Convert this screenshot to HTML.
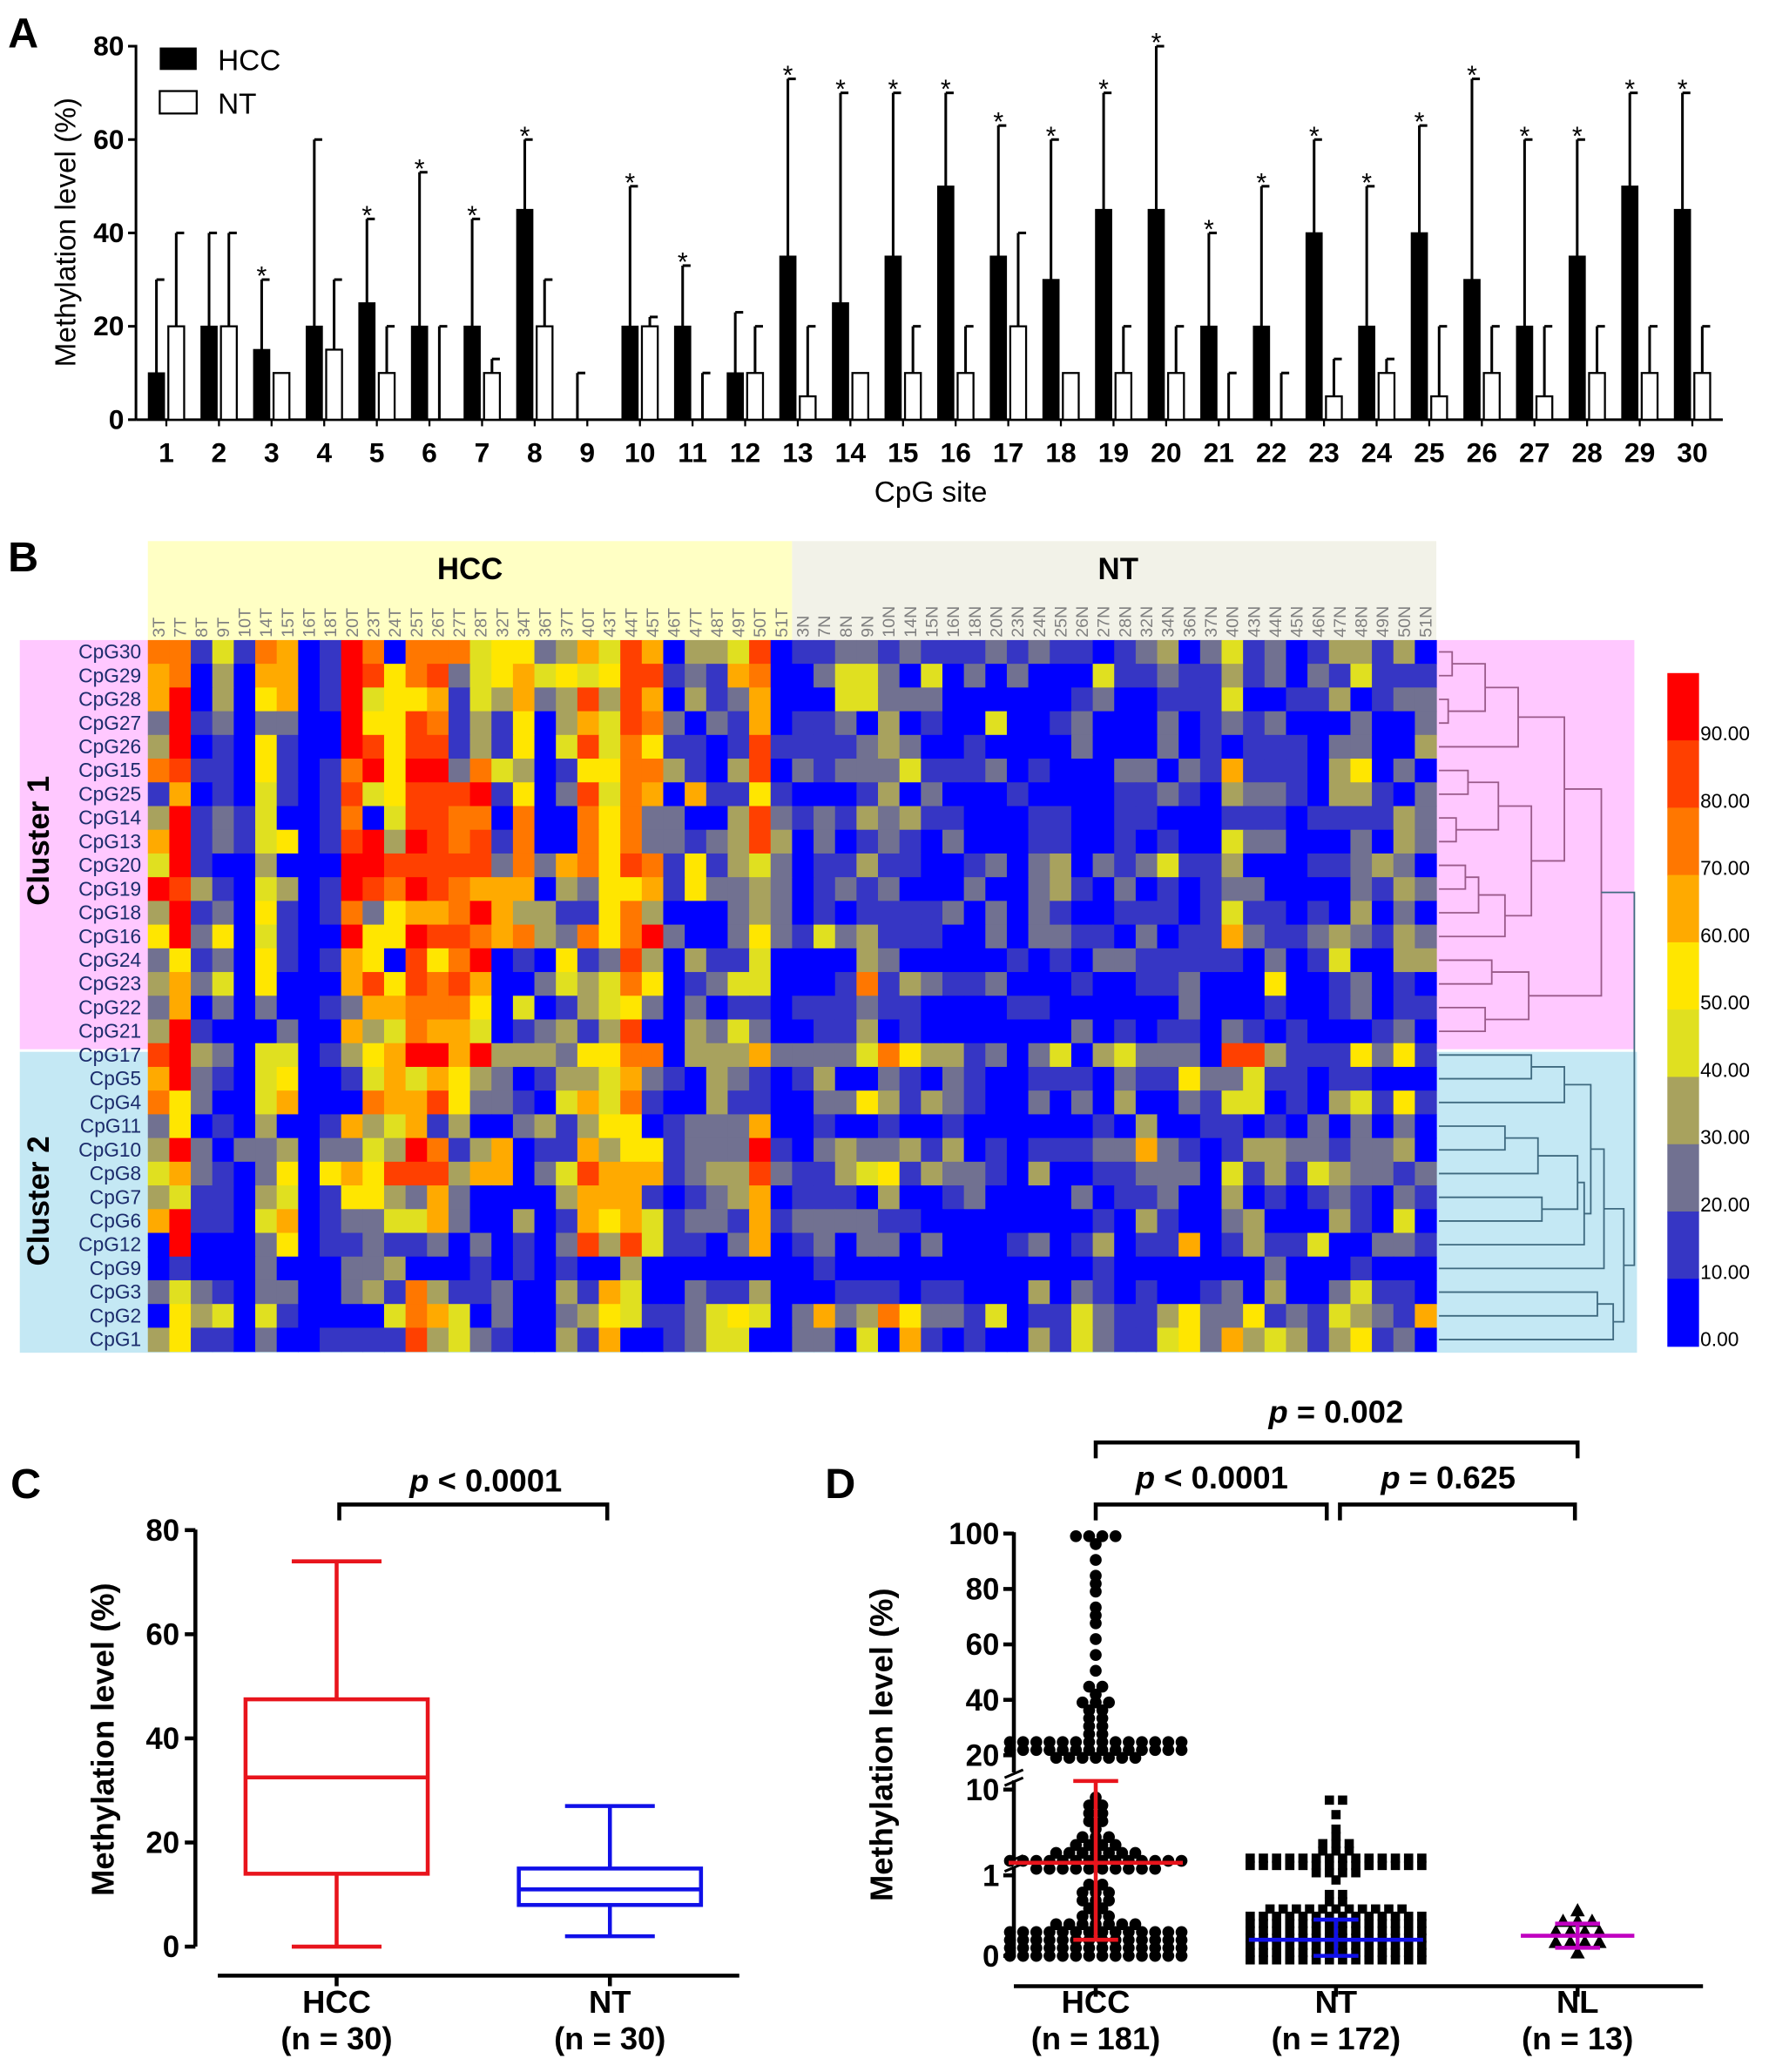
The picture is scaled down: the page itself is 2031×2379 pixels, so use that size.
<!DOCTYPE html>
<html><head><meta charset="utf-8"><style>
html,body{margin:0;padding:0;background:#fff;}
svg{display:block;font-family:"Liberation Sans",Arial,sans-serif;}
</style></head><body>
<svg id="fig" width="2031" height="2379" viewBox="0 0 1340 1570" preserveAspectRatio="none" xmlns="http://www.w3.org/2000/svg">
<rect width="1340" height="1570" fill="#fff"/>
<g id="pA"></g>
<g id="pB"></g>
<g id="pC"></g>
<g id="pD"></g>
</svg>
<script>
// ---------- Panel A data ----------
const sites = [1,2,3,4,5,6,7,8,9,10,11,12,13,14,15,16,17,18,19,20,21,22,23,24,25,26,27,28,29,30];
const hccMean = [10,20,15,20,25,20,20,45,0,20,20,10,35,25,35,50,35,30,45,45,20,20,40,20,40,30,20,35,50,45];
const hccTop  = [30,40,30,60,43,53,43,60,10,50,33,23,73,70,70,70,63,60,70,80,40,50,60,50,63,73,60,60,70,70];
const ntMean  = [20,20,10,15,10,0,10,20,0,20,0,10,5,10,10,10,20,10,10,10,0,0,5,10,5,10,5,10,10,10];
const ntTop   = [40,40,10,30,20,20,13,30,0,22,10,20,20,10,20,20,40,10,20,20,10,10,13,13,20,20,20,20,20,20];
const starred = [0,0,1,0,1,1,1,1,0,1,1,0,1,1,1,1,1,1,1,1,1,1,1,1,1,1,1,1,1,1];
const aTicks = [0,20,40,60,80];

// ---------- Panel B data ----------
const colLabels = ["3T","7T","8T","9T","10T","14T","15T","16T","18T","20T","23T","24T","25T","26T","27T","28T","32T","34T","36T","37T","40T","43T","44T","45T","46T","47T","48T","49T","50T","51T",
"3N","7N","8N","9N","10N","14N","15N","16N","18N","20N","23N","24N","25N","26N","27N","28N","32N","34N","36N","37N","40N","43N","44N","45N","46N","47N","48N","49N","50N","51N"];
const rowLabels = ["CpG30","CpG29","CpG28","CpG27","CpG26","CpG15","CpG25","CpG14","CpG13","CpG20","CpG19","CpG18","CpG16","CpG24","CpG23","CpG22","CpG21","CpG17","CpG5","CpG4","CpG11","CpG10","CpG8","CpG7","CpG6","CpG12","CpG9","CpG3","CpG2","CpG1"];
// level codes: B<10 D10-20 G20-30 O30-40 Y40-50 y50-60 A60-70 o70-80 R80-90 r>90
const heatRows = [
"ooDYDoABDroBoooYyyGOAYRABOOYRB"+"DDGGDGDDDGDGDDBDGOBGYDGBDOODOB",
"AoBOBAABDrRyoRGYyAYyYyRRDGDAoB"+"BGYYGBYBGBGBBBYDDGDDODGBGDYDDD",
"ArBOByABDrYyyADYOAGORORABODGAB"+"BBYYGGGBBBBBBDGBBDDDYBBDDOBDGG",
"GrDGBGGBBryyRoDODyBOAYRoGBGDAB"+"DDGBOBDBBYBBDGBBBGBDGDGBBBGBBG",
"OrBDByDBBrRyRRDODyBYRYoyDDBDRD"+"DDDGOGBBDBBBBGBBBGBDBDDDBGGBBO",
"oRDDByDBDoryrrGoYOBDyyooODBORB"+"GDGGGYDDDGBDBBBGGBGDADDDBOyBGB",
"DABDBYDBDRYyRRRrDyBGRYoABADDyD"+"BBBDOBGBBBDBBBBDDGDBOGGDBOODBG",
"OrDGDYBBDoBYRRooBoBBoyoGGBBORG"+"DGDOGODDBBBDDBBDDBBBDDDBDDDDOG",
"ArDGDYyBDRrOrRoRDoBBoyoGGDGORO"+"BGBDGDBGBBBDDBBDBDBBYGGBBBGBOG",
"YrDBBOBBBrrRRRRRGoGAoyRoDyDOYG"+"BDDODDBBDGBGOBGDGYDDOBBBDDGOGB",
"rRODBYOBDrRorRoAAABOGyyADyGGOG"+"BDGDGBBBGBBGODBGBDBDGGBBBBGDOG",
"OrDGByDBDoGyAAorAOODDyoOBBBGOG"+"BDBDDDDGBGBGDBBDDDBDYDDBDBOBGB",
"yrGyBYDBBryyrRRoAoOGoyorGBBGyG"+"DYGODDDBBGBGGDDBGBDDAGDDGOGDOG",
"GyDGByDBDAyBRyorBDByDGROBODDYB"+"BBBOGBBBBBDBDBGGDDDDDBGBDYBBOO",
"OAGYByBBBARyRoRABBGYOYoyBDGYYB"+"BBDoDOGDDGBBBDBBDDGBBByBBDGBDB",
"GABGBGBBDGAAoooyBYBDOYyGBGBDDB"+"DDDGDDBBBBDDBBBBBBGBBBDBBDGBDD",
"OrDBBBGBBAOYoAAYBDGODORBBOGYGB"+"BDDOBDBBBBBBBGBDBDDBGDBDBBBDGB",
"RrOGBYYBDOyArrArOOOGyyooBOOOAG"+"GGGYoyOODGBGYBOYGGGBRRODDDyGyD",
"ArGDBYyBBDYAYAyOGBDOOYAGDBOGDB"+"DOBBGDBGDBBDDDBGDDyGGYDDBDDBBB",
"oyGBBYABBBoAARyGGDBYAYoDBBODDB"+"BGGyODOGDBBGBGBOBBGDYYBDBOYDyD",
"GyBDBOBBDAOYADOBBGODOyyBDGGGAB"+"BDBBDBBDBBBBBBDBOBBDDBDBGBGBGB",
"OrGBGGOBGGYOroDOABDDAOyyDGGGrD"+"BGOGGODOBDBDDDGGAGDBDOOGGDGGOB",
"YAGDBGyByAyRRROAABGYRAAADGOORG"+"DDOYyDOGGDBOBBDDGGGBYDODYOGGDG",
"OYDDBOYBDyyOGAGBBBBOAAADBDGOAB"+"DDDBOBBDGBBBBGBDDGBBOBDBDGDBGD",
"ArDDBYABDGGYYAGBBOBDAyAYDGGDAD"+"GGGGDDBBBBBBBBDBODBBGOBBBODBYB",
"BrBBBGyBDDGDDGBGBDBGRORYDDBGAB"+"DGBGGBGBBBDGBDOBDDABDODDYBBGGD",
"BDBBBGBBBGGOBBBDBDBDBBOBBBBBBB"+"BDBBBBBBBBBBBBDBBBBBBBGBBBDBBB",
"GYGDBGGBBGODoODDGBBODAYBBGDDOB"+"BBDDDBDDBBBOBGDBDBBDGBOBBGYDDB",
"ByOYBYDBBBBYoAYBGBBGOyYDDGYyYB"+"GAGOoyGGDYBDDYGDDOyGGyDGDYOGDA",
"OyDDBGBBDDDDROYGDBBODABBDGYYBB"+"GGBYBADBDBBODYGDDYyGAOYODOyDGB"
];
const levelCodes = "BDGOYyAoRr";
const scaleLabels = ["90.00","80.00","70.00","60.00","50.00","40.00","30.00","20.00","10.00","0.00"];

// ---------- Panel C data ----------
const boxGroups = ["HCC","NT"];
const boxN = ["(n = 30)","(n = 30)"];
const boxMin = [0,2];
const boxQ1 = [14,8];
const boxMed = [32.5,11];
const boxQ3 = [47.5,15];
const boxMax = [74,27];
const cTicks = [0,20,40,60,80];

// ---------- Panel D data ----------
const dGroups = ["HCC","NT","NL"];
const dN = ["(n = 181)","(n = 172)","(n = 13)"];
const hccVals = [100,100,100,100,95,90,85,83,80,72,70,68,63,55,50,46,44,42,40,40,38,37,35,33,32,30,30,28,27,26,
25,25,25,25,25,25,25,25,25,25,25,25,24,24,24,24,24,24,24,23,23,23,22,22,22,22,22,21,21,21,20,20,20,20,
8,7,6,5,5,4,4,3.5,3,3,3,2.5,2.5,2.5,2.2,2,2,2,2,2,1.8,1.8,
1.5,1.5,1.5,1.5,1.5,1.5,1.5,1.5,1.5,1.5,1.5,1.5,1.5,1.5,1.3,1.3,1.3,1.3,1.3,1.3,1.3,1.3,1.2,1.2,
0.9,0.85,0.8,0.8,0.75,0.7,0.7,0.65,0.6,0.55,0.5,0.5,0.45,0.4,0.4,0.35,0.3,0.3,0.3,0.3,
0.25,0.25,0.25,0.25,0.25,0.25,0.25,0.25,0.25,0.2,0.2,0.2,0.2,0.2,0.2,0.2,0.2,0.2,0.2,0.2,0.2,
0.15,0.15,0.15,0.15,0.15,0.15,0.15,0.15,0.15,0.15,0.15,0.15,0.15,0.1,0.1,0.1,0.1,0.1,0.1,0.1,0.1,0.1,0.1,0.1,0.1,0.1,0.1,0.05,0.05,0.05,0.05,0.05,0.05,0.05,0.05];
const ntVals = [7,7,5,3.5,3,2.5,2.5,2.2,2,2,2,
1.6,1.6,1.6,1.6,1.6,1.6,1.6,1.6,1.6,1.6,1.6,1.6,1.6,1.5,1.5,1.5,1.5,1.5,1.5,1.5,1.5,1.5,1.5,1.5,1.5,1.3,1.3,1.3,1.3,1.3,1.3,1.3,
0.9,0.8,0.75,0.7,0.65,0.6,0.6,0.55,0.5,0.5,0.5,0.45,0.45,0.45,
0.4,0.4,0.4,0.4,0.4,0.35,0.35,0.35,0.35,0.35,0.3,0.3,0.3,0.3,0.3,0.3,0.3,0.3,
0.25,0.25,0.25,0.25,0.25,0.25,0.25,0.25,0.25,0.25,0.25,0.25,0.2,0.2,0.2,0.2,0.2,0.2,0.2,0.2,0.2,0.2,0.2,0.2,0.2,0.2,0.2,
0.15,0.15,0.15,0.15,0.15,0.15,0.15,0.15,0.15,0.15,0.15,0.15,0.15,0.15,0.15,0.1,0.1,0.1,0.1,0.1,0.1,0.1,0.1,0.1,0.1,0.1,0.1,0.1,0.1,0.1,0.1,
0.05,0.05,0.05,0.05,0.05,0.05,0.05,0.05,0.05,0.05,0.05,0.05,0.05,0.05,0.05,0.05,0.05,0.05,0.05,0.05,0.05,0.05,0.05,0.05];
const nlVals = [0.55,0.45,0.4,0.4,0.35,0.3,0.3,0.25,0.2,0.15,0.1,0.1,0.05];
const dMean = [1.4,0.2,0.25];
const dSdLow = [0.2,0,0.1];
const dSdHigh = [12.5,0.45,0.4];
const dTickVals = [0,1,10,20,40,60,80,100];

const NS="http://www.w3.org/2000/svg";
function mk(parent,tag,attrs,text){const e=document.createElementNS(NS,tag);for(const k in attrs)e.setAttribute(k,attrs[k]);if(text!==undefined)e.textContent=text;parent.appendChild(e);return e;}

// ===== Panel A =====
(function(){
  const g=document.getElementById('pA');
  const yA=v=>318-v*3.5375;
  const xA=s=>126+(s-1)*39.86;
  const L=mk(g,'text',{x:6,y:36,'font-size':32,'font-weight':'bold'},'A');
  
  mk(g,'line',{x1:103,y1:318,x2:103,y2:34,stroke:'#000','stroke-width':2});
  mk(g,'line',{x1:103,y1:318,x2:1305,y2:318,stroke:'#000','stroke-width':2});
  aTicks.forEach(t=>{
    mk(g,'line',{x1:97,y1:yA(t),x2:103,y2:yA(t),stroke:'#000','stroke-width':2});
    const tx=mk(g,'text',{x:94,y:yA(t)+7,'font-size':21,'font-weight':'bold','text-anchor':'end'},String(t));
    
  });
  const yt=mk(g,'text',{x:0,y:0,'font-size':22,'text-anchor':'middle',transform:'translate(57,176) rotate(-90)'},'Methylation level (%)');
  
  sites.forEach((s,i)=>{
    const c=xA(s);
    mk(g,'line',{x1:c,y1:318,x2:c,y2:323,stroke:'#000','stroke-width':1.5});
    const hb=mk(g,'rect',{x:c-13.5,y:yA(hccMean[i]),width:12,height:318-yA(hccMean[i]),fill:'#000',stroke:'#000','stroke-width':1});
    
    const hx=c-7.5;
    mk(g,'line',{x1:hx,y1:yA(hccMean[i]),x2:hx,y2:yA(hccTop[i]),stroke:'#000','stroke-width':2});
    mk(g,'line',{x1:hx,y1:yA(hccTop[i]),x2:hx+6,y2:yA(hccTop[i]),stroke:'#000','stroke-width':2});
    const nb=mk(g,'rect',{x:c+1.5,y:yA(ntMean[i]),width:12,height:318-yA(ntMean[i]),fill:'#fff',stroke:'#000','stroke-width':1.5});
    
    if(ntTop[i]>ntMean[i]){
      const nx=c+7.5;
      mk(g,'line',{x1:nx,y1:yA(ntMean[i]),x2:nx,y2:yA(ntTop[i]),stroke:'#000','stroke-width':2});
      mk(g,'line',{x1:nx,y1:yA(ntTop[i]),x2:nx+6,y2:yA(ntTop[i]),stroke:'#000','stroke-width':2});
    }
    if(starred[i]){const st=mk(g,'text',{x:hx,y:yA(hccTop[i])+4,'font-size':20,'text-anchor':'middle'},'*');
      }
    const lab=mk(g,'text',{x:c,y:350,'font-size':21,'font-weight':'bold','text-anchor':'middle'},String(s));
    
  });
  const xt=mk(g,'text',{x:705,y:380,'font-size':22,'text-anchor':'middle'},'CpG site');
  
  const lg=mk(g,'g',{});
  mk(lg,'rect',{x:121,y:36,width:28,height:17,fill:'#000'});
  mk(lg,'text',{x:165,y:53,'font-size':22},'HCC');
  mk(lg,'rect',{x:121,y:69,width:28,height:17,fill:'#fff',stroke:'#000','stroke-width':1.5});
  mk(lg,'text',{x:165,y:86,'font-size':22},'NT');
})();

// ===== Panel B =====
(function(){
  const g=document.getElementById('pB');
  const x0=112,x1=1088,y0=485,y1=1024;
  const cw=(x1-x0)/colLabels.length, rh=(y1-y0)/rowLabels.length;
  const L=mk(g,'text',{x:6,y:433,'font-size':32,'font-weight':'bold'},'B');
  
  mk(g,'rect',{x:x0,y:410,width:cw*30,height:75,fill:'#ffffc4'});
  mk(g,'rect',{x:x0+cw*30,y:410,width:cw*30,height:75,fill:'#f2f2e8'});
  mk(g,'rect',{x:15,y:485,width:1223,height:310,fill:'#ffc8ff'});
  mk(g,'rect',{x:15,y:797,width:1225,height:228,fill:'#c4e8f4'});
  const h1=mk(g,'text',{x:356,y:439,'font-size':23,'font-weight':'bold','text-anchor':'middle'},'HCC');
  
  const h2=mk(g,'text',{x:847,y:439,'font-size':23,'font-weight':'bold','text-anchor':'middle'},'NT');
  
  colLabels.forEach((c,j)=>{
    const t=mk(g,'text',{x:0,y:0,'font-size':13,fill:'#808080',transform:`translate(${x0+cw*(j+0.5)+4.5},483) rotate(-90)`},c);
    
  });
  const colorOf=['#0000ff','#3636c4','#717191','#a8a25e','#e0e020','#ffe600','#ffaa00','#ff7700','#ff4000','#ff0000'];
  heatRows.forEach((row,i)=>{
    for(let j=0;j<colLabels.length;j++){
      const lv=Math.max(0,levelCodes.indexOf(row[j]||'B'));
      const r=mk(g,'rect',{x:x0+cw*j,y:y0+rh*i,width:cw+0.4,height:rh+0.4,fill:colorOf[lv]});
      
    }
  });
  rowLabels.forEach((l,i)=>{
    const t=mk(g,'text',{x:107,y:y0+rh*(i+0.5)+5,'font-size':15,fill:'#1c2c6c','text-anchor':'end'},l);
    
  });
  const c1=mk(g,'text',{x:0,y:0,'font-size':23,'font-weight':'bold','text-anchor':'middle',transform:'translate(37,637) rotate(-90)'},'Cluster 1');
  
  const c2=mk(g,'text',{x:0,y:0,'font-size':23,'font-weight':'bold','text-anchor':'middle',transform:'translate(37,910) rotate(-90)'},'Cluster 2');
  
  const merges=[[0,1,1100],[2,3,1097],[30,31,1125],[32,4,1150],[5,6,1112],[7,8,1103],[34,35,1135],[9,10,1110],[37,11,1120],[38,12,1140],[36,39,1160],[33,40,1185],[13,14,1130],[15,16,1125],[42,43,1158],[41,44,1213],
   [17,18,1160],[46,19,1185],[20,21,1140],[48,22,1165],[23,24,1168],[49,50,1195],[51,25,1200],[47,52,1205],[53,26,1215],[27,28,1210],[55,29,1222],[54,56,1230],[45,57,1238]];
  const ny=[],nx=[];
  for(let i=0;i<30;i++){ny[i]=y0+rh*(i+0.5);nx[i]=1090;}
  const dg=mk(g,'g',{fill:'none','stroke-width':1.2});
  merges.forEach((m,k)=>{
    const id=30+k,[a,b,x]=m;
    const col=(ny[a]<795&&ny[b]<795)?'#9a5a8a':'#3f6a80';
    mk(dg,'path',{d:`M${nx[a]},${ny[a]}H${x}V${ny[b]}H${nx[b]}`,stroke:col});
    ny[id]=(ny[a]+ny[b])/2;nx[id]=x;
  });
  const sg=mk(g,'g',{});
  scaleLabels.forEach((s,k)=>{
    mk(sg,'rect',{x:1263,y:510+k*51,width:24,height:51.5,fill:colorOf[9-k]});
    const t=mk(sg,'text',{x:1288,y:561+k*51,'font-size':15},s);
    
  });
})();

function bracket(g,x1,x2,y,txt,tx,ty){
  const b=mk(g,'path',{d:`M${x1},${y+12}V${y}H${x2}V${y+12}`,fill:'none',stroke:'#000','stroke-width':3});
  
  const t=mk(g,'text',{x:tx,y:ty,'font-size':24,'font-weight':'bold','text-anchor':'middle'});
  
  mk(t,'tspan',{'font-style':'italic'},'p');
  mk(t,'tspan',{},txt);
}

// ===== Panel C =====
(function(){
  const g=document.getElementById('pC');
  const yC=v=>1475-v*3.945;
  const xs=[255,462];
  const L=mk(g,'text',{x:8,y:1135,'font-size':32,'font-weight':'bold'},'C');
  
  mk(g,'line',{x1:148,y1:1475,x2:148,y2:1159,stroke:'#000','stroke-width':3});
  cTicks.forEach(t=>{
    mk(g,'line',{x1:140,y1:yC(t),x2:148,y2:yC(t),stroke:'#000','stroke-width':3});
    const tx=mk(g,'text',{x:136,y:yC(t)+8,'font-size':23,'font-weight':'bold','text-anchor':'end'},String(t));
    
  });
  const yt=mk(g,'text',{x:0,y:0,'font-size':24,'font-weight':'bold','text-anchor':'middle',transform:'translate(86,1318) rotate(-90)'},'Methylation level (%)');
  
  mk(g,'line',{x1:165,y1:1497,x2:560,y2:1497,stroke:'#000','stroke-width':3});
  const cols=['#e8141c','#1010e8'];
  boxGroups.forEach((n,i)=>{
    const c=xs[i];
    mk(g,'line',{x1:c,y1:1497,x2:c,y2:1505,stroke:'#000','stroke-width':3});
    const bx=mk(g,'g',{stroke:cols[i],'stroke-width':3,fill:'none'});
    
    mk(bx,'rect',{x:c-69,y:yC(boxQ3[i]),width:138,height:yC(boxQ1[i])-yC(boxQ3[i])});
    mk(bx,'line',{x1:c-69,y1:yC(boxMed[i]),x2:c+69,y2:yC(boxMed[i])});
    mk(bx,'line',{x1:c,y1:yC(boxQ3[i]),x2:c,y2:yC(boxMax[i])});
    mk(bx,'line',{x1:c,y1:yC(boxQ1[i]),x2:c,y2:yC(boxMin[i])});
    mk(bx,'line',{x1:c-34,y1:yC(boxMax[i]),x2:c+34,y2:yC(boxMax[i])});
    mk(bx,'line',{x1:c-34,y1:yC(boxMin[i]),x2:c+34,y2:yC(boxMin[i])});
    const t1=mk(g,'text',{x:c,y:1525,'font-size':24,'font-weight':'bold','text-anchor':'middle'},n);
    
    const t2=mk(g,'text',{x:c,y:1553,'font-size':24,'font-weight':'bold','text-anchor':'middle'},boxN[i]);
    
  });
  bracket(g,257,460,1140,' < 0.0001',368,1130);
})();

// ===== Panel D =====
(function(){
  const g=document.getElementById('pD');
  function yD(v){ if(v<=1) return 1482-v*61; if(v<=10) return 1421-Math.log10(v)*65; if(v<20) return 1356-(v-10)*2.6; return 1330-(v-20)*2.1; }
  const xs=[830,1012,1195];
  const L=mk(g,'text',{x:625,y:1135,'font-size':32,'font-weight':'bold'},'D');
  
  mk(g,'path',{d:'M768,1483V1414 M768,1408V1349 M768,1343V1161',stroke:'#000','stroke-width':3,fill:'none'});
  mk(g,'path',{d:'M761,1418l14,-6 M761,1412l14,-6 M761,1353l14,-6 M761,1347l14,-6',stroke:'#000','stroke-width':2,fill:'none'});
  dTickVals.forEach(t=>{
    mk(g,'line',{x1:760,y1:yD(t),x2:768,y2:yD(t),stroke:'#000','stroke-width':3});
    const tx=mk(g,'text',{x:757,y:yD(t)+8,'font-size':23,'font-weight':'bold','text-anchor':'end'},String(t));
    
  });
  const yt=mk(g,'text',{x:0,y:0,'font-size':24,'font-weight':'bold','text-anchor':'middle',transform:'translate(676,1322) rotate(-90)'},'Methylation level (%)');
  
  mk(g,'line',{x1:768,y1:1505,x2:1290,y2:1505,stroke:'#000','stroke-width':3});
  const sets=[hccVals,ntVals,nlVals];
  const sp=[10,10,11];
  const maxPer=[14,14,6];
  const rowH=[6,5.5,8];
  sets.forEach((vals,gi)=>{
    const bins={};
    const maxK=Math.floor((yD(0)+4)/rowH[gi]);
    vals.map(yD).forEach(y=>{
      const k0=Math.round(y/rowH[gi]);
      let k=k0;
      for(let d=0;d<60;d++){
        const off=(d%2===0)?-(d/2):(d+1)/2;
        const kk=k0+off;
        if(kk>maxK) continue;
        if((bins[kk]||[]).length<maxPer[gi]){k=kk;break;}
      }
      (bins[k]=bins[k]||[]).push(k*rowH[gi]);
    });
    Object.keys(bins).forEach(k=>{
      const arr=bins[k];
      arr.forEach((y,i)=>{
        const x=xs[gi]+(i-(arr.length-1)/2)*sp[gi];
        let e;
        if(gi===0) e=mk(g,'circle',{cx:x,cy:y,r:4.5,fill:'#000'});
        else if(gi===1) e=mk(g,'rect',{x:x-3.5,y:y-3.5,width:7,height:7,fill:'#000'});
        else e=mk(g,'path',{d:`M${x},${y-6}L${x+5.5},${y+4}H${x-5.5}Z`,fill:'#000'});
        
        
      });
    });
  });
  const mc=['#e8141c','#1010e8','#c000c0'];
  const hw=[66,66,43];
  dGroups.forEach((n,i)=>{
    const c=xs[i];
    const m=mk(g,'g',{stroke:mc[i],'stroke-width':3});
    
    mk(m,'line',{x1:c-hw[i],y1:yD(dMean[i]),x2:c+hw[i],y2:yD(dMean[i])});
    mk(m,'line',{x1:c,y1:yD(dSdLow[i]),x2:c,y2:yD(dSdHigh[i])});
    mk(m,'line',{x1:c-17,y1:yD(dSdLow[i]),x2:c+17,y2:yD(dSdLow[i])});
    mk(m,'line',{x1:c-17,y1:yD(dSdHigh[i]),x2:c+17,y2:yD(dSdHigh[i])});
    mk(g,'line',{x1:c,y1:1505,x2:c,y2:1513,stroke:'#000','stroke-width':3});
    const t1=mk(g,'text',{x:c,y:1525,'font-size':24,'font-weight':'bold','text-anchor':'middle'},n);
    
    const t2=mk(g,'text',{x:c,y:1553,'font-size':24,'font-weight':'bold','text-anchor':'middle'},dN[i]);
    
  });
  bracket(g,830,1195,1093,' = 0.002',1012,1078);
  bracket(g,830,1005,1140,' < 0.0001',918,1128);
  bracket(g,1015,1193,1140,' = 0.625',1097,1128);
})();
</script>
</body></html>
